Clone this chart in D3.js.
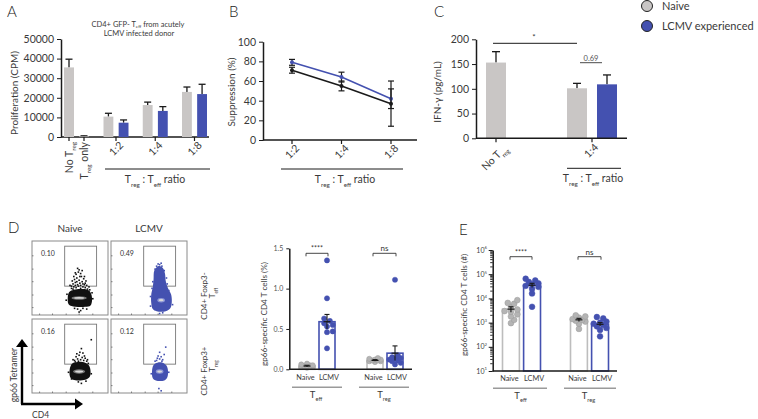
<!DOCTYPE html>
<html><head><meta charset="utf-8">
<script src="https://cdn.jsdelivr.net/npm/d3@7"></script>
<style>
body{margin:0;background:#fff}
svg{font-family:Lato,"Open Sans",sans-serif}
</style></head><body>
<svg id="c" width="758" height="419"></svg>
<script>
// ================= DATA =================
const seriesNames = ["Naive", "LCMV experienced"];
// Panel A
const aSingleCats = ["No Treg", "Treg only"];
const aSingleVals = [35500, 300];
const aSingleErr = [4200, 300];
const ratioCats = ["1:2", "1:4", "1:8"];
const aNaiveVals = [10400, 16300, 23000];
const aNaiveErr = [1700, 1500, 2500];
const aLcmvVals = [7300, 13300, 21900];
const aLcmvErr = [1400, 2200, 5000];
const aTicks = [0, 10000, 20000, 30000, 40000, 50000];
// Panel B
const bNaiveVals = [71, 55, 37];
const bNaiveErr = [3, 5, 23];
const bLcmvVals = [79, 64, 42];
const bLcmvErr = [3, 5, 10];
const bTicks = [0, 20, 40, 60, 80, 100];
// Panel C
const cCats = ["No Treg", "1:4"];
const cNaiveVals = [153, 101];
const cNaiveErr = [22, 10];
const cLcmvVals = [null, 109];
const cLcmvErr = [null, 19];
const cTicks = [0, 50, 100, 150, 200];
const cPLabel = "0.69";
// Panel D (flow)
const flowCols = ["Naive", "LCMV"];
const flowRows = ["Teff", "Treg"];
const flowPct = [["0.10", "0.49"], ["0.16", "0.12"]];
const flowGate = [43, 85, 39, 93];
const blobNaiveTeff = [[48,15],[52,12],[70,11],[77,13],[79,20],[78,28],[75,33],[65,35],[55,34],[49,31],[47,23]];
const blobLcmvTeff = [[55,8],[60,5],[72,5],[78,9],[80,18],[79,28],[75,36],[72,46],[71,56],[68,64],[62,66],[57,60],[56,48],[55,38],[53,28],[53,16]];
const blobNaiveTreg = [[50,22],[54,18],[70,18],[76,22],[77,30],[75,37],[70,41],[60,42],[53,40],[50,34]];
const blobLcmvTreg = [[55,20],[59,17],[70,17],[74,21],[75,30],[73,37],[68,41],[61,41],[56,38],[54,30]];
const coreNaiveTeff = [62, 23, 10, 2.4];
const coreLcmvTeff = [66, 20, 5, 3];
const coreNaiveTreg = [62, 29, 8, 3];
const coreLcmvTreg = [64, 29, 5, 3];
const ptsNaiveTeff = [[52,36],[55,38],[58,37],[61,39],[64,36],[67,38],[70,37],[73,35],[50,40],[54,42],[57,44],[60,41],[63,43],[66,45],[69,41],[72,40],[56,48],[59,50],[62,47],[65,52],[68,49],[71,46],[58,55],[61,58],[64,56],[66,60],[60,63],[63,52],[53,46],[75,38],[57,40],[62,34],[69,34],[60,8],[64,6],[62,4],[67,9],[55,52],[59,45],[64,40],[67,42],[70,43],[52,39],[57,57],[62,61],[69,52],[54,35],[76,34],[79,30],[46,28],[45,20],[80,22],[56,9],[72,8]];
const ptsLcmvTeff = [[60,66],[64,68],[66,70],[58,62],[70,60],[55,45],[74,42],[76,33],[52,25],[64,2],[68,3],[62,69],[67,66],[54,36],[81,14],[52,12],[73,50]];
const ptsNaiveTreg = [[56,44],[60,46],[64,45],[68,44],[72,43],[58,49],[62,51],[66,48],[70,47],[63,55],[59,53],[67,54],[65,60],[78,72],[54,45],[74,40],[61,15],[65,13],[57,42],[61,43],[69,50],[73,45],[48,28],[78,26],[52,19],[71,16]];
const ptsLcmvTreg = [[60,44],[64,46],[68,45],[62,50],[66,49],[70,52],[64,55],[72,62],[58,43],[66,3],[63,6],[53,26],[76,28],[67,43],[61,47]];
// Panel D (summary, %)
const groupCats = ["Teff", "Treg"];
const dTeffNaive = [0.02, 0.03, 0.03, 0.04, 0.04, 0.05, 0.05, 0.06, 0.07, 0.03];
const dTeffLcmv = [1.35, 0.88, 0.63, 0.60, 0.57, 0.55, 0.53, 0.47, 0.46, 0.26];
const dTregNaive = [0.09, 0.10, 0.11, 0.11, 0.12, 0.12, 0.13, 0.14, 0.10];
const dTregLcmv = [1.11, 0.17, 0.15, 0.14, 0.13, 0.12, 0.11, 0.10, 0.08, 0.06];
const dBarMeans = [[0.04, 0.59], [0.11, 0.20]];
const dBarErr = [[0.01, 0.09], [0.01, 0.09]];
const dTicks = [0, 0.5, 1.0, 1.5];
const dSig = ["****", "ns"];
// Panel E (#)
const eTeffNaive = [8500, 6500, 6000, 4500, 3500, 3000, 2800, 2200, 1800, 1300, 950];
const eTeffLcmv = [65000, 55000, 48000, 42000, 38000, 33000, 30000, 25000, 16000, 4500];
const eTregNaive = [2000, 1800, 1600, 1400, 1300, 1200, 1100, 900, 550];
const eTregLcmv = [1700, 1500, 1100, 1000, 900, 800, 700, 600, 500, 270];
const eBarMeans = [[3600, 35000], [1300, 850]];
const eBarErr = [[900, 7000], [200, 150]];
const eTicks = [1e1, 1e2, 1e3, 1e4, 1e5, 1e6];
const eSig = ["****", "ns"];

// ================= STYLE =================
const INK = "#1a1a1a", TXT = "#3a3a3a", GRAY = "#c9c6c5", BLUE = "#4451b0";
const DOTGRAY = "#b4b4b4", BARGRAY = "#bdbdbd";
const svg = d3.select("#c");

function rich(parent, x, y, segs, o = {}) {
  const size = o.size || 10;
  const t = parent.append("text").attr("x", x).attr("y", y)
    .attr("font-size", size).attr("fill", o.fill || TXT)
    .attr("text-anchor", o.anchor || "start");
  if (o.rotate != null) t.attr("transform", `rotate(${o.rotate},${x},${y})`);
  if (o.weight) t.attr("font-weight", o.weight);
  let shift = 0;
  segs.forEach(s => {
    const str = typeof s === "string" ? s : s[0];
    const kind = typeof s === "string" ? null : s[1];
    let target = 0, fs = size;
    if (kind === "sub") { target = size * (o.subShift || 0.35); fs = size * 0.6; }
    if (kind === "sup") { target = -size * 0.45; fs = size * 0.62; }
    t.append("tspan").text(str).attr("font-size", fs).attr("dy", target - shift);
    shift = target;
  });
  return t;
}
function line(g, x1, y1, x2, y2, col = INK, w = 1.2) {
  return g.append("line").attr("x1", x1).attr("y1", y1).attr("x2", x2).attr("y2", y2)
    .attr("stroke", col).attr("stroke-width", w);
}
function styleAxis(sel, size, col) {
  sel.attr("font-family", null).attr("font-size", size);
  sel.selectAll("text").attr("fill", col || TXT);
  sel.selectAll("line").attr("stroke", INK);
  sel.select(".domain").attr("stroke", INK).attr("stroke-width", 1.5);
}
const TREG = ["T", ["reg", "sub"]];
const TEFF = ["T", ["eff", "sub"]];
const RATIO = ["T", ["reg", "sub"], " : T", ["eff", "sub"], " ratio"];

// Panel letters
[["A", 7, 17], ["B", 229, 17], ["C", 434, 17], ["D", 8, 233], ["E", 459, 235]].forEach(d =>
  svg.append("text").attr("x", d[1]).attr("y", d[2]).attr("font-size", 15).attr("font-weight", 300).attr("fill", "#222").text(d[0]));

// Legend
const leg = svg.append("g");
seriesNames.forEach((s, i) => {
  leg.append("circle").attr("cx", 647).attr("cy", 6 + i * 20).attr("r", 5.5)
    .attr("fill", i ? BLUE : GRAY).attr("stroke", "#222").attr("stroke-width", 1);
  leg.append("text").attr("x", 662).attr("y", 10 + i * 20).attr("font-size", 11).attr("fill", TXT).text(s);
});

// ================= PANEL A =================
{
  const g = svg.append("g");
  const y = d3.scaleLinear().domain([0, 50000]).range([137, 39]);
  const x1 = d3.scalePoint().domain(aSingleCats).range([69, 84]);
  const x2 = d3.scalePoint().domain(ratioCats).range([116, 194.5]);
  const sub = d3.scaleBand().domain(seriesNames).range([-12.5, 12.5]).paddingInner(0.35);
  const bw = sub.bandwidth();
  const ax = g.append("g").attr("transform", "translate(61,0)")
    .call(d3.axisLeft(y).tickValues(aTicks).tickSize(4).tickSizeOuter(0).tickFormat(d3.format("d")));
  styleAxis(ax, 10.5);
  line(g, 61, 137, 209, 137, INK, 1.5);
  const bars = [];
  aSingleCats.forEach((c, i) => bars.push({ x: x1(c) - 5, w: 10, v: aSingleVals[i], e: aSingleErr[i], col: GRAY }));
  ratioCats.forEach((c, i) => {
    bars.push({ x: x2(c) + sub(seriesNames[0]), w: bw, v: aNaiveVals[i], e: aNaiveErr[i], col: GRAY });
    bars.push({ x: x2(c) + sub(seriesNames[1]), w: bw, v: aLcmvVals[i], e: aLcmvErr[i], col: BLUE });
  });
  bars.forEach(b => {
    const cx = b.x + b.w / 2;
    line(g, cx, y(b.v), cx, y(b.v + b.e), INK, 1.3);
    line(g, cx - 3.5, y(b.v + b.e), cx + 3.5, y(b.v + b.e), INK, 1.3);
    g.append("rect").attr("x", b.x).attr("y", y(b.v)).attr("width", b.w).attr("height", y(0) - y(b.v)).attr("fill", b.col);
  });
  [...aSingleCats.map(c => x1(c)), ...ratioCats.map(c => x2(c))].forEach(px => line(g, px, 137, px, 141, INK, 1.2));
  rich(g, 72.5, 142, ["No ", ...TREG], { size: 10.5, anchor: "end", rotate: -90 });
  rich(g, 87.5, 142, [...TREG, " only"], { size: 10.5, anchor: "end", rotate: -90 });
  ratioCats.forEach(c => rich(g, x2(c) + 8, 146, [c], { size: 10.5, anchor: "end", rotate: -45 }));
  line(g, 105, 169, 210, 169, INK, 1);
  rich(g, 155, 183, RATIO, { size: 10.5, anchor: "middle" });
  rich(g, 18, 93, ["Proliferation (CPM)"], { size: 10, anchor: "middle", rotate: -90 });
  rich(g, 138, 26.5, ["CD4+ GFP- ", ...TEFF, " from acutely"], { size: 7.5, anchor: "middle", subShift: 0.2 });
  rich(g, 139, 36, ["LCMV infected donor"], { size: 7.5, anchor: "middle" });
}

// ================= PANEL B =================
{
  const g = svg.append("g");
  const y = d3.scaleLinear().domain([0, 100]).range([140, 41.7]);
  const x = d3.scalePoint().domain(ratioCats).range([292, 391]);
  const ax = g.append("g").attr("transform", "translate(263,0)")
    .call(d3.axisLeft(y).tickValues(bTicks).tickSize(4).tickSizeOuter(0));
  styleAxis(ax, 10.5);
  line(g, 263, 140, 417, 140, INK, 1.5);
  ratioCats.forEach(c => line(g, x(c), 140, x(c), 144, INK, 1.2));
  const ln = d3.line().x((d, i) => x(ratioCats[i])).y(d => y(d));
  [[bLcmvVals, bLcmvErr, BLUE], [bNaiveVals, bNaiveErr, INK]].forEach(([v, e, col]) => {
    v.forEach((d, i) => {
      const cx = x(ratioCats[i]);
      line(g, cx, y(d - e[i]), cx, y(d + e[i]), INK, 1.2);
      line(g, cx - 3, y(d - e[i]), cx + 3, y(d - e[i]), INK, 1.2);
      line(g, cx - 3, y(d + e[i]), cx + 3, y(d + e[i]), INK, 1.2);
    });
    g.append("path").attr("d", ln(v)).attr("fill", "none").attr("stroke", col).attr("stroke-width", 1.6);
    v.forEach((d, i) => g.append("circle").attr("cx", x(ratioCats[i])).attr("cy", y(d)).attr("r", 2).attr("fill", col));
  });
  ratioCats.forEach(c => rich(g, x(c) + 8, 149, [c], { size: 10.5, anchor: "end", rotate: -45 }));
  line(g, 281, 169, 403, 169, INK, 1);
  rich(g, 345, 183, RATIO, { size: 10.5, anchor: "middle" });
  rich(g, 235, 92, ["Suppression (%)"], { size: 10, anchor: "middle", rotate: -90 });
}

// ================= PANEL C =================
{
  const g = svg.append("g");
  const y = d3.scaleLinear().domain([0, 200]).range([138.3, 39.3]);
  const x = d3.scalePoint().domain(cCats).range([496, 592]);
  const sub = d3.scaleBand().domain(seriesNames).range([-25, 25]).paddingInner(1 / 3);
  const ax = g.append("g").attr("transform", "translate(476,0)")
    .call(d3.axisLeft(y).tickValues(cTicks).tickSize(4).tickSizeOuter(0));
  styleAxis(ax, 10.5);
  const bars = [{ x: x(cCats[0]) - 10, w: 20, v: cNaiveVals[0], e: cNaiveErr[0], col: GRAY },
    { x: x(cCats[1]) + sub(seriesNames[0]), w: sub.bandwidth(), v: cNaiveVals[1], e: cNaiveErr[1], col: GRAY },
    { x: x(cCats[1]) + sub(seriesNames[1]), w: sub.bandwidth(), v: cLcmvVals[1], e: cLcmvErr[1], col: BLUE }];
  bars.forEach(b => {
    const cx = b.x + b.w / 2;
    line(g, cx, y(b.v), cx, y(b.v + b.e), INK, 1.3);
    line(g, cx - 4, y(b.v + b.e), cx + 4, y(b.v + b.e), INK, 1.3);
    g.append("rect").attr("x", b.x).attr("y", y(b.v)).attr("width", b.w).attr("height", y(0) - y(b.v)).attr("fill", b.col);
  });
  line(g, 476, 138.3, 627, 138.3, INK, 1.5);
  cCats.forEach(c => line(g, x(c), 138.3, x(c), 142.3, INK, 1.2));
  rich(g, x(cCats[0]) + 12, 149, ["No ", ...TREG], { size: 10.5, anchor: "end", rotate: -45 });
  rich(g, x(cCats[1]) + 7, 148, [cCats[1]], { size: 10.5, anchor: "end", rotate: -45 });
  line(g, 567, 168.3, 621, 168.3, INK, 1);
  rich(g, 593, 182, RATIO, { size: 10.5, anchor: "middle" });
  rich(g, 441, 92, ["IFN-γ (pg/mL)"], { size: 10, anchor: "middle", rotate: -90 });
  line(g, 493, 43.3, 577, 43.3, INK, 1);
  rich(g, 534, 40, ["*"], { size: 8, anchor: "middle" });
  line(g, 580, 62.7, 602, 62.7, INK, 0.8);
  rich(g, 591, 60.5, [cPLabel], { size: 7.5, anchor: "middle", fill: "#555" });
}

// ================= PANEL D (flow) =================
{
  const g = svg.append("g");
  const cx = d3.scaleBand().domain(flowCols).range([32, 187]).paddingInner(3 / 79);
  const ry = d3.scaleBand().domain(flowRows).range([241, 393]).paddingInner(4 / 78);
  const blobs = [[blobNaiveTeff, blobLcmvTeff], [blobNaiveTreg, blobLcmvTreg]];
  const cores = [[coreNaiveTeff, coreLcmvTeff], [coreNaiveTreg, coreLcmvTreg]];
  const pts = [[ptsNaiveTeff, ptsLcmvTeff], [ptsNaiveTreg, ptsLcmvTreg]];
  flowCols.forEach((col, ci) => rich(g, cx(col) + cx.bandwidth() / 2, 231.5, [col], { size: 10, anchor: "middle" }));
  flowRows.forEach((row, ri) => flowCols.forEach((col, ci) => {
    const x0 = cx(col), y0 = ry(row), w = cx.bandwidth(), h = ry.bandwidth();
    const fx = d3.scaleLinear().domain([0, 100]).range([x0, x0 + w]);
    const fy = d3.scaleLinear().domain([0, 100]).range([y0 + h, y0]);
    const color = ci ? BLUE : "#111";
    g.append("rect").attr("x", x0).attr("y", y0).attr("width", w).attr("height", h)
      .attr("fill", "none").attr("stroke", "#8a8a8a").attr("stroke-width", 1);
    [10, 27, 45, 62, 80].forEach(t => {
      line(g, x0, fy(t), x0 + 1.5, fy(t), "#666", 0.8);
      line(g, fx(t), y0 + h, fx(t), y0 + h - 1.5, "#666", 0.8);
    });
    g.append("rect").attr("x", fx(flowGate[0])).attr("y", fy(flowGate[3]))
      .attr("width", fx(flowGate[1]) - fx(flowGate[0])).attr("height", fy(flowGate[2]) - fy(flowGate[3]))
      .attr("fill", "none").attr("stroke", "#777").attr("stroke-width", 0.9);
    const bl = d3.line().x(d => fx(d[0])).y(d => fy(d[1])).curve(d3.curveCatmullRomClosed);
    g.append("path").attr("d", bl(blobs[ri][ci])).attr("fill", color);
    pts[ri][ci].forEach(p => g.append("rect").attr("x", fx(p[0]) - 0.8).attr("y", fy(p[1]) - 0.8)
      .attr("width", 1.6).attr("height", 1.6).attr("fill", color));
    const c = cores[ri][ci];
    g.append("ellipse").attr("cx", fx(c[0])).attr("cy", fy(c[1])).attr("rx", fx(c[2]) - fx(0)).attr("ry", fy(0) - fy(c[3]))
      .attr("fill", ci ? "#8d96d6" : "#777");
    g.append("ellipse").attr("cx", fx(c[0])).attr("cy", fy(c[1])).attr("rx", (fx(c[2]) - fx(0)) * 0.65).attr("ry", (fy(0) - fy(c[3])) * 0.5)
      .attr("fill", "#d8d8d8");
    rich(g, x0 + 9, y0 + 15, [flowPct[ri][ci]], { size: 7, fill: "#333" });
  }));
  rich(g, 207, 296, ["CD4+ Foxp3-"], { size: 8, anchor: "middle", rotate: -90 });
  rich(g, 215, 293, TEFF, { size: 8, anchor: "middle", rotate: -90 });
  rich(g, 207, 371, ["CD4+ Foxp3+"], { size: 8, anchor: "middle", rotate: -90 });
  rich(g, 215, 366, TREG, { size: 8, anchor: "middle", rotate: -90 });
  // arrows
  line(g, 22, 404, 22, 346, "#000", 2.4);
  line(g, 21, 404, 76, 404, "#000", 2.4);
  g.append("path").attr("d", "M16,347 L22,339 L28,347 Z").attr("fill", "#000");
  g.append("path").attr("d", "M75,398.5 L83,404 L75,409.5 Z").attr("fill", "#000");
  rich(g, 16.5, 375, ["gp66 Tetramer"], { size: 8.5, anchor: "middle", rotate: -90 });
  rich(g, 32, 418, ["CD4"], { size: 8.5 });
}

// ====== dot-bar helper for D summary and E ======
function swarm(vals, yScale, cx, r, maxOff) {
  const placed = [];
  const sorted = vals.map((v, i) => ({ v, i })).sort((a, b) => a.v - b.v);
  sorted.forEach(d => {
    const yy = yScale(d.v);
    let chosen = cx, best = -1;
    for (let k = 0; k < 20; k++) {
      const off = (k % 2 ? 1 : -1) * Math.ceil(k / 2) * r * 1.1;
      if (Math.abs(off) > maxOff) continue;
      const xx = cx + off;
      const md = placed.length ? d3.min(placed, p => Math.hypot(p.x - xx, p.y - yy)) : 99;
      if (md > r * 1.5) { chosen = xx; best = 99; break; }
      if (md > best) { best = md; chosen = xx; }
    }
    placed.push({ x: chosen, y: yy });
  });
  return placed;
}
function dotBars(g, y, xg, sub, groupsVals, means, errs, base, r) {
  const bw = sub.bandwidth();
  groupCats.forEach((gc, gi) => seriesNames.forEach((s, si) => {
    const x0 = xg(gc) + sub(s), cxm = x0 + bw / 2;
    const col = si ? BLUE : BARGRAY;
    g.append("rect").attr("x", x0).attr("y", y(means[gi][si])).attr("width", bw).attr("height", y(base) - y(means[gi][si]))
      .attr("fill", "#fff").attr("stroke", col).attr("stroke-width", 1.6);
    swarm(groupsVals[gi][si], y, cxm, r, 7).forEach(p => g.append("circle").attr("cx", p.x).attr("cy", p.y).attr("r", r)
      .attr("fill", si ? BLUE : DOTGRAY).attr("stroke", si ? BLUE : "#9a9a9a").attr("stroke-width", 0.5));
    const m = means[gi][si], e = errs[gi][si];
    line(g, cxm - 3.5, y(m), cxm + 3.5, y(m), INK, 1.2);
    line(g, cxm, y(m - e), cxm, y(m + e), INK, 1.1);
    line(g, cxm - 2.5, y(m + e), cxm + 2.5, y(m + e), INK, 1.1);
  }));
}
function bracket(g, x1, x2, yb, label, size) {
  g.append("path").attr("d", `M${x1},${yb + 3}V${yb}H${x2}V${yb + 3}`).attr("fill", "none").attr("stroke", "#333").attr("stroke-width", 0.9);
  rich(g, (x1 + x2) / 2, yb - 2, [label], { size: size, anchor: "middle", fill: "#333" });
}
function groupLabels(g, xg, sub, yTxt, yLine, lines) {
  const bw = sub.bandwidth();
  groupCats.forEach((gc, gi) => {
    seriesNames.forEach((s, si) => rich(g, xg(gc) + sub(s) + bw / 2 + (si ? 2 : -1.5), yTxt, [si ? "LCMV" : "Naive"], { size: 7.3, anchor: "middle" }));
    line(g, lines[gi][0], yLine, lines[gi][1], yLine, "#9a9a9a", 1.6);
    rich(g, xg(gc) - 1, yLine + 10.5, gi ? TREG : TEFF, { size: 9.5, anchor: "middle" });
  });
}

// ================= PANEL D summary =================
{
  const g = svg.append("g");
  const y = d3.scaleLinear().domain([0, 1.5]).range([369.3, 248.3]);
  const xg = d3.scalePoint().domain(groupCats).range([317, 385]);
  const sub = d3.scaleBand().domain(seriesNames).range([-18, 18]).paddingInner(0.2);
  dotBars(g, y, xg, sub, [[dTeffNaive, dTeffLcmv], [dTregNaive, dTregLcmv]], dBarMeans, dBarErr, 0, 2.6);
  const ax = g.append("g").attr("transform", "translate(289.3,0)")
    .call(d3.axisLeft(y).tickValues(dTicks).tickSize(3).tickSizeOuter(0).tickFormat(d3.format(".1f")));
  styleAxis(ax, 7, "#555");
  line(g, 289.3, 369.3, 412, 369.3, INK, 1.5);
  bracket(g, 306, 328, 253.3, dSig[0], 7);
  bracket(g, 373, 396, 253.3, dSig[1], 8);
  groupLabels(g, xg, sub, 380, 387.3, [[292, 342], [359, 409]]);
  rich(g, 266.5, 314, ["gp66-specific CD4 T cells (%)"], { size: 8.2, anchor: "middle", rotate: -90 });
}

// ================= PANEL E =================
{
  const g = svg.append("g");
  const y = d3.scaleLog().domain([10, 1e6]).range([371, 250]);
  const xg = d3.scalePoint().domain(groupCats).range([521.5, 589.5]);
  const sub = d3.scaleBand().domain(seriesNames).range([-19, 19]).paddingInner(0.2);
  dotBars(g, y, xg, sub, [[eTeffNaive, eTeffLcmv], [eTregNaive, eTregLcmv]], eBarMeans, eBarErr, 10, 2.9);
  const ax = g.append("g").attr("transform", "translate(492.7,0)")
    .call(d3.axisLeft(y).tickValues(eTicks).tickSize(4).tickSizeOuter(0).tickFormat(""));
  styleAxis(ax, 7);
  const minors = [];
  eTicks.slice(0, -1).forEach(t => d3.range(2, 10).forEach(m => minors.push(t * m)));
  minors.forEach(v => line(g, 492.7 - 2.5, y(v), 492.7, y(v), INK, 0.9));
  eTicks.forEach(t => rich(g, 487, y(t) + 2.5, ["10", [String(Math.round(Math.log10(t))), "sup"]], { size: 7, anchor: "end", fill: "#444" }));
  line(g, 492.7, 371, 617, 371, INK, 1.5);
  bracket(g, 510, 532, 256.7, eSig[0], 7);
  bracket(g, 578, 601, 256.7, eSig[1], 8);
  groupLabels(g, xg, sub, 380.7, 388.3, [[493, 547], [564, 616]]);
  rich(g, 467, 305, ["gp66-specific CD4 T cells (#)"], { size: 8.2, anchor: "middle", rotate: -90 });
}
</script>
</body></html>
